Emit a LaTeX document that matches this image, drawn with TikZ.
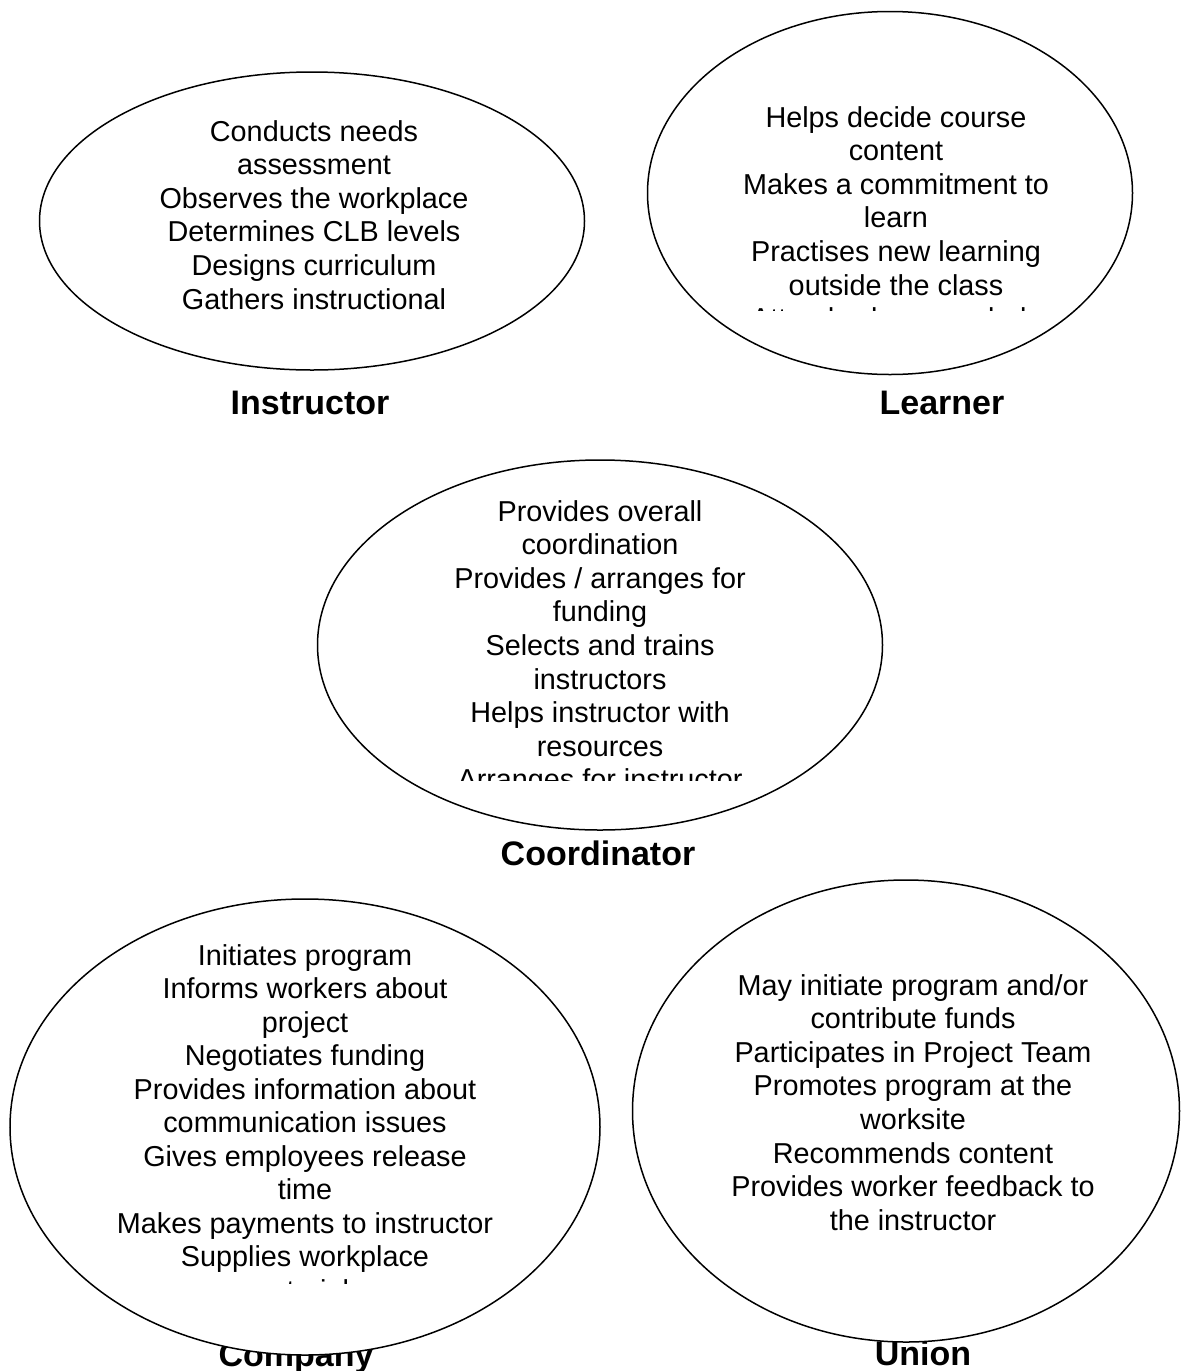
\documentclass[tikz,border=0pt]{standalone}
\usepackage{fontspec}
\setmainfont{Liberation Sans}
\usetikzlibrary{shapes.geometric}
\begin{document}
\begin{tikzpicture}[x=0.5pt,y=-0.5pt,
  bubble/.style={ellipse,draw=black,line width=0.75pt,fill=white,inner sep=0pt},
  duty/.style={font=\fontsize{14.4pt}{16.75pt}\selectfont,anchor=base,inner sep=0pt},
  rolename/.style={font=\fontsize{17pt}{20pt}\selectfont\bfseries,anchor=base,inner sep=0pt}]
\useasboundingbox (0,0) rectangle (1188,1371);

% role names under the bubbles
\node[rolename] (ins-name) at (310,414) {Instructor};
\node[rolename] (lea-name) at (942,414) {Learner};
\node[rolename] (coo-name) at (598,865) {Coordinator};
\node[rolename] (com-name) at (296,1366) {Company};
\node[rolename] (uni-name) at (923,1365) {Union};

% bubbles
\node[bubble,minimum width=272.5pt,minimum height=149pt] (ins) at (312,221) {};
\node[bubble,minimum width=242.5pt,minimum height=181.5pt] (lea) at (890,193) {};
\node[bubble,minimum width=282.5pt,minimum height=185pt] (coo) at (600,645) {};
\node[bubble,minimum width=295pt,minimum height=228pt] (com) at (305,1127) {};
\node[bubble,minimum width=273.5pt,minimum height=231pt] (uni) at (906,1111) {};

% duties, each list cut off by its text box
\foreach \t [count=\i] in {Conducts needs,assessment,Observes the workplace,Determines CLB levels,Designs curriculum,Gathers instructional}
  \node[duty] (ins-\i) at (314,{141+(\i-1)*33.6}) {\t};

\begin{scope}
  \clip (650,80) rectangle (1130,310);
  \foreach \t [count=\i] in {Helps decide course,content,Makes a commitment to,learn,Practises new learning,outside the class,Attends class regularly}
    \node[duty] (lea-\i) at (896,{127+(\i-1)*33.6}) {\t};
\end{scope}

\begin{scope}
  \clip (330,470) rectangle (870,780);
  \foreach \t [count=\i] in {Provides overall,coordination,Provides / arranges for,funding,Selects and trains,instructors,Helps instructor with,resources,Arranges for instructor}
    \node[duty] (coo-\i) at (600,{521+(\i-1)*33.6}) {\t};
\end{scope}

\begin{scope}
  \clip (20,900) rectangle (600,1283);
  \foreach \t [count=\i] in {Initiates program,Informs workers about,project,Negotiates funding,Provides information about,communication issues,Gives employees release,time,Makes payments to instructor,Supplies workplace,materials}
    \node[duty] (com-\i) at (305,{965+(\i-1)*33.5}) {\t};
\end{scope}

\foreach \t [count=\i] in {May initiate program and/or,contribute funds,Participates in Project Team,Promotes program at the,worksite,Recommends content,Provides worker feedback to,the instructor}
  \node[duty] (uni-\i) at (913,{995+(\i-1)*33.6}) {\t};
\end{tikzpicture}
\end{document}
